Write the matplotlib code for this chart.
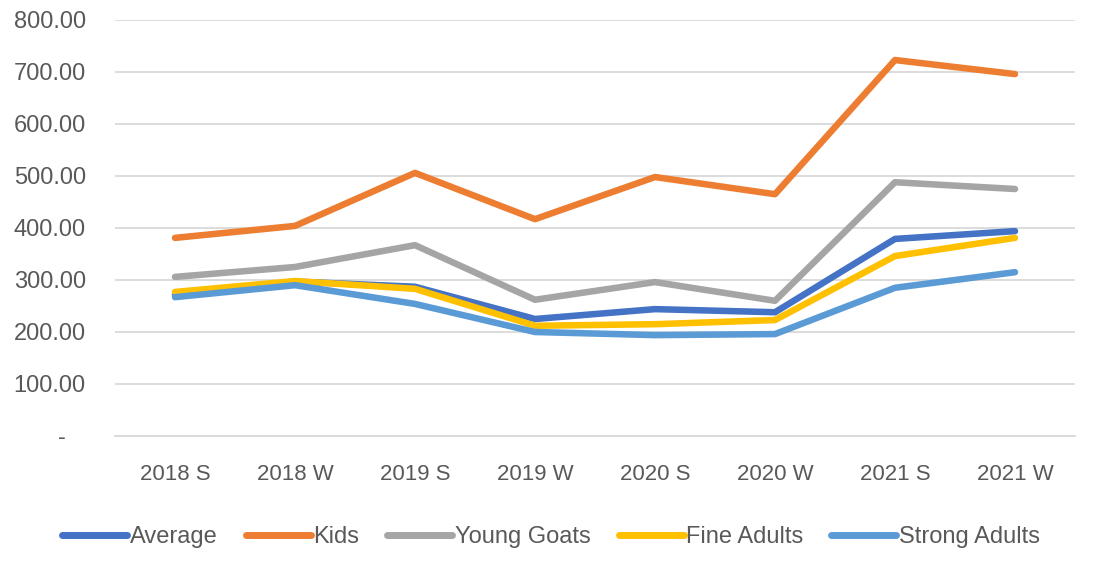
import matplotlib
matplotlib.use("Agg")
import matplotlib.pyplot as plt

categories = ["2018 S", "2018 W", "2019 S", "2019 W", "2020 S", "2020 W", "2021 S", "2021 W"]
average = [272, 297, 287, 225, 244, 238, 379, 394]
kids = [381, 404, 506, 417, 498, 465, 723, 696]
young_goats = [306, 325, 367, 262, 296, 260, 488, 475]
fine_adults = [277, 298, 283, 212, 215, 223, 346, 381]
strong_adults = [267, 290, 254, 200, 194, 196, 285, 315]

series = [
    ("Average", average, "#4472C4"),
    ("Kids", kids, "#ED7D31"),
    ("Young Goats", young_goats, "#A5A5A5"),
    ("Fine Adults", fine_adults, "#FFC000"),
    ("Strong Adults", strong_adults, "#5B9BD5"),
]
yticks = [0, 100, 200, 300, 400, 500, 600, 700, 800]
ytick_labels = ["-   "] + [f"{v:.2f}" for v in yticks[1:]]

plt.rcParams['font.family'] = ['Liberation Sans', 'DejaVu Sans']
fig = plt.figure(figsize=(11.02, 5.77), dpi=100)
ax = fig.add_axes([115/1102, 1-436/577, 960/1102, 416/577])
x = list(range(len(categories)))
for name, vals, col in series:
    ax.plot(x, vals, color=col, lw=4.7, label=name, solid_capstyle='round', solid_joinstyle='round')

ax.set_xlim(-0.5, len(categories) - 0.5)
ax.set_ylim(0, 800)
ax.set_yticks(yticks)
ax.set_yticklabels(ytick_labels)
ax.set_xticks(x)
ax.set_xticklabels(categories)
ax.grid(axis='y', color='#D9D9D9', lw=1.3)
ax.set_axisbelow(True)
for s in ['top', 'right', 'left']:
    ax.spines[s].set_visible(False)
ax.spines['bottom'].set_color('#D9D9D9')
ax.spines['bottom'].set_linewidth(1.3)
ax.tick_params(axis='both', length=0, colors='#595959')
ax.tick_params(axis='x', pad=20, labelsize=16)
ax.tick_params(axis='y', pad=21, labelsize=17)

leg = fig.legend(loc='center', bbox_to_anchor=(0.5, 1-537/577), ncol=5, frameon=False,
                 fontsize=17, handlelength=2.75, handletextpad=0.1, columnspacing=1.2,
                 labelcolor='#595959')
for h in leg.get_lines():
    h.set_linewidth(5)
fig.savefig("out.png", dpi=100)
